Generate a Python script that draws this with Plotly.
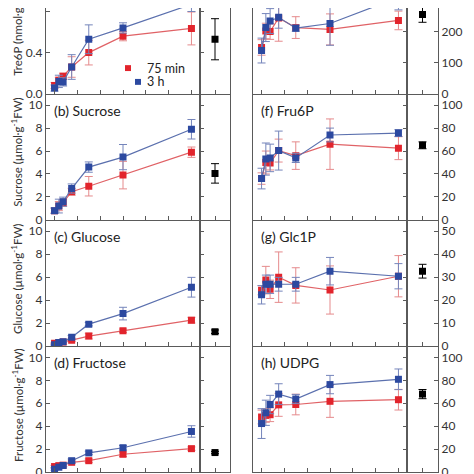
import plotly.graph_objects as go

W, H = 474, 474

# time points (min)
TIME = [0, 15, 30, 60, 120, 240, 480]
X_TICKS = [0, 80, 160, 240, 320, 400, 480]

tre6p_75 = [0.08, 0.13, 0.17, 0.26, 0.40, 0.56, 0.635]
tre6p_75_err = [0.03, 0.03, 0.03, 0.10, 0.12, 0.045, 0.16]
tre6p_3h = [0.055, 0.12, 0.115, 0.26, 0.53, 0.64, 0.87]
tre6p_3h_err = [0.03, 0.06, 0.04, 0.12, 0.14, 0.05, 0.07]
tre6p_ctrl = [0.53]
tre6p_ctrl_err = [0.20]

sucrose_75 = [0.8, 1.2, 1.5, 2.45, 2.93, 3.9, 5.9]
sucrose_75_err = [0.2, 0.4, 0.3, 0.3, 0.85, 1.2, 0.45]
sucrose_3h = [0.8, 1.2, 1.58, 2.73, 4.6, 5.47, 7.9]
sucrose_3h_err = [0.25, 0.6, 0.4, 0.4, 0.45, 1.1, 0.85]
sucrose_ctrl = [4.05]
sucrose_ctrl_err = [0.85]

glucose_75 = [0.23, 0.3, 0.35, 0.5, 0.86, 1.32, 2.25]
glucose_75_err = [0.05, 0.05, 0.05, 0.1, 0.25, 0.15, 0.25]
glucose_3h = [0.1, 0.29, 0.37, 0.75, 1.9, 2.82, 5.12]
glucose_3h_err = [0.05, 0.05, 0.05, 0.15, 0.15, 0.55, 0.86]
glucose_ctrl = [1.24]
glucose_ctrl_err = [0.15]

fructose_75 = [0.48, 0.56, 0.6, 0.85, 0.99, 1.55, 2.04]
fructose_75_err = [0.1, 0.1, 0.1, 0.1, 0.15, 0.2, 0.15]
fructose_3h = [0.25, 0.42, 0.57, 0.99, 1.67, 2.12, 3.54]
fructose_3h_err = [0.1, 0.1, 0.1, 0.15, 0.15, 0.2, 0.5]
fructose_ctrl = [1.7]
fructose_ctrl_err = [0.1]

glc6p_75 = [149, 202, 200, 244, 213, 207, 236]
glc6p_75_err = [25, 25, 25, 75, 35, 50, 30]
glc6p_3h = [139, 213, 234, 246, 211, 226, 310]
glc6p_3h_err = [40, 45, 40, 35, 10, 70, 40]
glc6p_ctrl = [255]
glc6p_ctrl_err = [25]

fru6p_75 = [36, 50, 49.5, 60.4, 56, 66, 62.5]
fru6p_75_err = [5, 10, 6, 10, 12, 22, 10]
fru6p_3h = [36, 53, 54, 60.4, 54, 74, 75.7]
fru6p_3h_err = [9, 14, 12, 17, 4, 6, 3]
fru6p_ctrl = [65]
fru6p_ctrl_err = [3]

glc1p_75 = [24.3, 28.7, 24.7, 30, 26.4, 24.4, 30.4]
glc1p_75_err = [2, 6, 4, 11, 7.7, 10.5, 9]
glc1p_3h = [22.3, 26.9, 26.9, 26.9, 26.9, 32.6, 30.4]
glc1p_3h_err = [4, 4, 4, 3, 3, 6, 5.5]
glc1p_ctrl = [32.6]
glc1p_ctrl_err = [3]

udpg_75 = [48, 49.4, 50, 58.6, 58.9, 61.7, 63.1]
udpg_75_err = [6, 6, 6, 10, 9, 14, 9]
udpg_3h = [42.3, 51.7, 58.9, 68, 63.7, 76.3, 80.9]
udpg_3h_err = [13, 11, 8, 9, 4, 8, 9]
udpg_ctrl = [68]
udpg_ctrl_err = [4]

LEGEND_LABELS = ["75 min", "3 h"]

SUP = "<sup>-1</sup>"
panels = [
    dict(col=0, row=0, label=None, title="Tre6P (nmol·g" + SUP + "FW)", rng=[0, 0.834], dtick=0.4, fmt=".1f",
         r=tre6p_75, re=tre6p_75_err, b=tre6p_3h, be=tre6p_3h_err, c=tre6p_ctrl, ce=tre6p_ctrl_err),
    dict(col=0, row=1, label="(b) Sucrose", title="Sucrose (µmol·g" + SUP + "FW)", rng=[0, 11], dtick=2, fmt="d",
         r=sucrose_75, re=sucrose_75_err, b=sucrose_3h, be=sucrose_3h_err, c=sucrose_ctrl, ce=sucrose_ctrl_err),
    dict(col=0, row=2, label="(c) Glucose", title="Glucose (µmol·g" + SUP + "FW)", rng=[0, 11], dtick=2, fmt="d",
         r=glucose_75, re=glucose_75_err, b=glucose_3h, be=glucose_3h_err, c=glucose_ctrl, ce=glucose_ctrl_err),
    dict(col=0, row=3, label="(d) Fructose", title="Fructose (µmol·g" + SUP + "FW)", rng=[0, 11], dtick=2, fmt="d",
         r=fructose_75, re=fructose_75_err, b=fructose_3h, be=fructose_3h_err, c=fructose_ctrl, ce=fructose_ctrl_err),
    dict(col=1, row=0, label=None, title="Glc6P (nmol·g" + SUP + "FW)", rng=[0, 276], dtick=100, fmt="d",
         r=glc6p_75, re=glc6p_75_err, b=glc6p_3h, be=glc6p_3h_err, c=glc6p_ctrl, ce=glc6p_ctrl_err),
    dict(col=1, row=1, label="(f) Fru6P", title="Fru6P (nmol·g" + SUP + "FW)", rng=[0, 110], dtick=20, fmt="d",
         r=fru6p_75, re=fru6p_75_err, b=fru6p_3h, be=fru6p_3h_err, c=fru6p_ctrl, ce=fru6p_ctrl_err),
    dict(col=1, row=2, label="(g) Glc1P", title="Glc1P (nmol·g" + SUP + "FW)", rng=[0, 55], dtick=10, fmt="d",
         r=glc1p_75, re=glc1p_75_err, b=glc1p_3h, be=glc1p_3h_err, c=glc1p_ctrl, ce=glc1p_ctrl_err),
    dict(col=1, row=3, label="(h) UDPG", title="UDPG (nmol·g" + SUP + "FW)", rng=[0, 110], dtick=20, fmt="d",
         r=udpg_75, re=udpg_75_err, b=udpg_3h, be=udpg_3h_err, c=udpg_ctrl, ce=udpg_ctrl_err),
]

RED_M, RED_L, RED_E = "#e2242c", "#e06266", "#e58a8c"
BLUE_M, BLUE_L, BLUE_E = "#2c49a0", "#5b70ae", "#7585bb"
FRAME = "#5a5a5a"
FONT = "Lato"

# pixel geometry
col_main = [(38, 192), (245, 399)]
col_side = [(192, 222), (399, 430)]
row_px = [(-41, 87), (87, 215), (215, 343), (343, 471)]


def px_x(a, b):
    return [a / W, b / W]


def px_y(top, bot):
    return [max(0.0, 1 - bot / H), min(1.0, 1 - top / H)]


fig = go.Figure()
layout = {}
annotations = []

for p, d in enumerate(panels):
    im, isd = 2 * p + 1, 2 * p + 2
    xm, ym = f"x{im}", f"y{im}"
    xs, ys = f"x{isd}", f"y{isd}"
    col, row = d["col"], d["row"]
    ydom = px_y(*row_px[row])
    axline = dict(showline=True, linecolor=FRAME, linewidth=1.2, showgrid=False, zeroline=False,
                  ticks="inside", ticklen=4, tickcolor=FRAME, tickwidth=1)

    layout[f"xaxis{im}"] = dict(axline, domain=px_x(*col_main[col]), range=[-30, 510],
                                tickvals=X_TICKS, showticklabels=False, anchor=ym)
    layout[f"xaxis{isd}"] = dict(axline, domain=px_x(*col_side[col]), range=[0, 1],
                                 tickvals=[0.5], showticklabels=False, anchor=ys)
    yfont = dict(family=FONT, size=12, color="#333333")
    if col == 0:
        layout[f"yaxis{im}"] = dict(axline, domain=ydom, range=d["rng"], dtick=d["dtick"], tick0=0,
                                    tickformat=d["fmt"], side="left", mirror=True, anchor=xm,
                                    tickfont=yfont, showticklabels=True)
        layout[f"yaxis{isd}"] = dict(axline, domain=ydom, range=d["rng"], dtick=d["dtick"], tick0=0,
                                     side="left", mirror=True, anchor=xs, showticklabels=False)
    else:
        layout[f"yaxis{im}"] = dict(axline, domain=ydom, range=d["rng"], dtick=d["dtick"], tick0=0,
                                    side="right", mirror=True, anchor=xm, showticklabels=False)
        layout[f"yaxis{isd}"] = dict(axline, domain=ydom, range=d["rng"], dtick=d["dtick"], tick0=0,
                                     tickformat=d["fmt"], side="right", mirror=True, anchor=xs,
                                     tickfont=yfont, showticklabels=True)

    fig.add_trace(go.Scatter(
        x=TIME, y=d["r"], mode="lines+markers", xaxis=xm, yaxis=ym, showlegend=False,
        line=dict(color=RED_L, width=1.2), marker=dict(symbol="square", size=7, color=RED_M),
        error_y=dict(type="data", array=d["re"], color=RED_E, thickness=1, width=4), cliponaxis=True))
    fig.add_trace(go.Scatter(
        x=TIME, y=d["b"], mode="lines+markers", xaxis=xm, yaxis=ym, showlegend=False,
        line=dict(color=BLUE_L, width=1.2), marker=dict(symbol="square", size=7, color=BLUE_M),
        error_y=dict(type="data", array=d["be"], color=BLUE_E, thickness=1, width=4), cliponaxis=True))
    fig.add_trace(go.Scatter(
        x=[0.5], y=d["c"], mode="markers", xaxis=xs, yaxis=ys, showlegend=False,
        marker=dict(symbol="square", size=7, color="black"),
        error_y=dict(type="data", array=d["ce"], color="black", thickness=1, width=4)))

    rt, rb = row_px[row]
    yc = 1 - ((rt + rb) / 2 - 4) / H
    tx = 9 / W if col == 0 else 466 / W
    annotations.append(dict(text=d["title"], x=tx, y=yc, xref="paper", yref="paper",
                            textangle=-90, showarrow=False, xanchor="center", yanchor="middle",
                            font=dict(family=FONT, size=11.5, color="#333333")))
    if d["label"]:
        lx = (col_main[col][0] + 6) / W
        annotations.append(dict(text=d["label"], x=lx, y=1 - (rt + 17) / H, xref="paper", yref="paper",
                                showarrow=False, xanchor="left", yanchor="middle",
                                font=dict(family=FONT, size=14, color="#222222")))

# legend (panel a)
annotations.append(dict(text=LEGEND_LABELS[0], x=137 / W, y=1 - 61 / H, xref="paper", yref="paper",
                        showarrow=False, xanchor="left", yanchor="middle",
                        font=dict(family=FONT, size=12.5, color="#222222")))
annotations.append(dict(text=LEGEND_LABELS[1], x=137 / W, y=1 - 75 / H, xref="paper", yref="paper",
                        showarrow=False, xanchor="left", yanchor="middle",
                        font=dict(family=FONT, size=12.5, color="#222222")))
shapes = [
    dict(type="rect", xref="paper", yref="paper", x0=117 / W, x1=123 / W, y0=1 - 64 / H, y1=1 - 58 / H,
         fillcolor=RED_M, line=dict(width=0)),
    dict(type="rect", xref="paper", yref="paper", x0=127 / W, x1=133 / W, y0=1 - 78 / H, y1=1 - 72 / H,
         fillcolor=BLUE_M, line=dict(width=0)),
]

fig.update_layout(width=W, height=H, margin=dict(l=0, r=0, t=0, b=0), paper_bgcolor="white",
                  plot_bgcolor="white", showlegend=False, annotations=annotations, shapes=shapes,
                  font=dict(family=FONT), **layout)

fig.write_html("out.html")
